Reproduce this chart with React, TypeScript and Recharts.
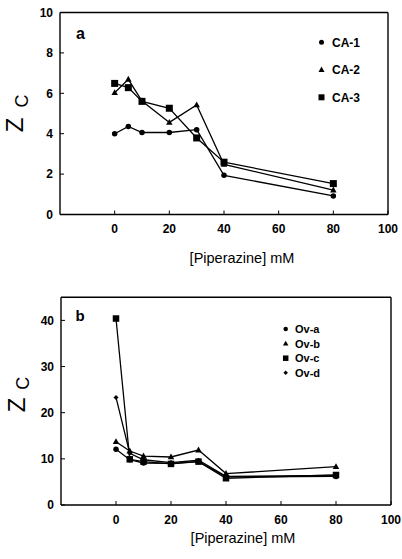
import React from 'react';
import { LineChart, Line, XAxis, YAxis, ReferenceLine, Legend, Customized } from 'recharts';

// ---------- data ----------
const piperazine = [0, 5, 10, 20, 30, 40, 80];

const caNames = ['CA-1', 'CA-2', 'CA-3'];
const ca1 = [4.0, 4.36, 4.06, 4.06, 4.2, 1.94, 0.92];
const ca2 = [6.03, 6.69, 5.62, 4.56, 5.42, 2.48, 1.21];
const ca3 = [6.49, 6.28, 5.6, 5.26, 3.79, 2.59, 1.53];

const ovNames = ['Ov-a', 'Ov-b', 'Ov-c', 'Ov-d'];
const ova = [12.1, 9.8, 9.1, 9.0, 9.4, 6.1, 6.2];
const ovb = [13.7, 11.7, 10.6, 10.4, 11.9, 6.8, 8.3];
const ovc = [40.4, 9.9, 9.4, 8.9, 9.4, 5.8, 6.5];
const ovd = [23.3, 11.2, 9.8, 9.2, 9.7, 6.2, 6.4];

const xTicks = [0, 20, 40, 60, 80, 100];
const xDomain = [-20, 100];
const caYTicks = [0, 2, 4, 6, 8, 10];
const caYDomain = [0, 10];
const ovYTicks = [0, 10, 20, 30, 40];
const ovYDomain = [0, 45];

const caData = piperazine.map((x, i) => ({ x, s0: ca1[i], s1: ca2[i], s2: ca3[i] }));
const ovData = piperazine.map((x, i) => ({ x, s0: ova[i], s1: ovb[i], s2: ovc[i], s3: ovd[i] }));

const FONT = '"Liberation Sans", Arial, Helvetica, sans-serif';

type Shape = 'circle' | 'triangle' | 'square' | 'diamond';

function markerEl(shape: Shape, cx: number, cy: number, s: number, key?: any) {
  if (cx == null || cy == null || isNaN(cx) || isNaN(cy)) return <g key={key} />;
  if (shape === 'circle') return <circle key={key} cx={cx} cy={cy} r={s / 2} fill="#000" />;
  if (shape === 'square')
    return <rect key={key} x={cx - s / 2} y={cy - s / 2} width={s} height={s} fill="#000" />;
  if (shape === 'triangle') {
    const h = s * 0.9;
    return (
      <polygon
        key={key}
        points={`${cx},${cy - h * 0.6} ${cx - s / 2},${cy + h * 0.4} ${cx + s / 2},${cy + h * 0.4}`}
        fill="#000"
      />
    );
  }
  return (
    <polygon
      key={key}
      points={`${cx},${cy - s / 2} ${cx + s / 2},${cy} ${cx},${cy + s / 2} ${cx - s / 2},${cy}`}
      fill="#000"
    />
  );
}

const tickStyle = { fill: '#000', fontSize: 12, fontWeight: 700, fontFamily: FONT };

type PanelProps = {
  data: any[];
  names: string[];
  shapes: Shape[];
  sizes: number[];
  yDomain: number[];
  yTicks: number[];
  height: number;
  margin: any;
  yAxisWidth: number;
  letter: string;
  letterPos: { x: number; y: number; size: number };
  zPos: { x: number; zy: number; cx: number; cy: number };
  xLabelPos: { x: number; y: number };
  legendPos: { left: number; top: number; mx: number; tx: number; y0: number; dy: number; fs: number; ms: number[] };
};

function Panel(p: PanelProps) {
  const legendContent = () => (
    <svg width={100} height={110} style={{ overflow: 'visible', display: 'block' }}>
      {p.names.map((n, i) => {
        const cy = p.legendPos.y0 + i * p.legendPos.dy;
        return (
          <g key={n}>
            {markerEl(p.shapes[i], p.legendPos.mx, cy, p.legendPos.ms[i])}
            <text
              x={p.legendPos.tx}
              y={cy + p.legendPos.fs * 0.36}
              fontSize={p.legendPos.fs}
              fontWeight={700}
              fontFamily={FONT}
              fill="#000"
            >
              {n}
            </text>
          </g>
        );
      })}
    </svg>
  );

  const annotations = () => (
    <g>
      <text
        x={p.letterPos.x}
        y={p.letterPos.y}
        fontSize={p.letterPos.size}
        fontWeight={700}
        fontFamily={FONT}
        fill="#000"
      >
        {p.letter}
      </text>
      <text
        x={p.zPos.x}
        y={p.zPos.zy}
        transform={`rotate(-90 ${p.zPos.x} ${p.zPos.zy})`}
        textAnchor="middle"
        fontSize={24}
        fontFamily={FONT}
        fill="#000"
      >
        Z
      </text>
      <text
        x={p.zPos.cx}
        y={p.zPos.cy}
        transform={`rotate(-90 ${p.zPos.cx} ${p.zPos.cy})`}
        textAnchor="middle"
        fontSize={18}
        fontFamily={FONT}
        fill="#000"
      >
        C
      </text>
      <text
        x={p.xLabelPos.x}
        y={p.xLabelPos.y}
        textAnchor="middle"
        fontSize={14.5}
        fontFamily={FONT}
        fill="#000"
      >
        [Piperazine] mM
      </text>
    </g>
  );

  return (
    <LineChart width={402} height={p.height} data={p.data} margin={p.margin}>
      <XAxis
        type="number"
        dataKey="x"
        domain={xDomain}
        ticks={xTicks}
        allowDataOverflow
        height={30}
        tick={tickStyle}
        tickSize={-4}
        tickMargin={14}
        axisLine={{ stroke: '#000', strokeWidth: 1.4 }}
        tickLine={{ stroke: '#000', strokeWidth: 1 }}
      />
      <YAxis
        type="number"
        domain={p.yDomain}
        ticks={p.yTicks}
        allowDataOverflow
        width={p.yAxisWidth}
        tick={tickStyle}
        tickSize={-4}
        tickMargin={11}
        axisLine={{ stroke: '#000', strokeWidth: 1.4 }}
        tickLine={{ stroke: '#000', strokeWidth: 1 }}
      />
      <ReferenceLine y={p.yDomain[1]} stroke="#000" strokeWidth={1.4} />
      <ReferenceLine x={xDomain[1]} stroke="#000" strokeWidth={1.4} />
      {p.names.map((n, i) => (
        <Line
          key={n}
          dataKey={`s${i}`}
          name={n}
          type="linear"
          stroke="#000"
          strokeWidth={1.3}
          isAnimationActive={false}
          dot={(dp: any) => markerEl(p.shapes[i], dp.cx, dp.cy, p.sizes[i], `${n}-${dp.index}`)}
          activeDot={false}
        />
      ))}
      <Legend
        layout="vertical"
        align="center"
        verticalAlign="middle"
        content={legendContent}
        wrapperStyle={{ left: p.legendPos.left, top: p.legendPos.top, width: 100, height: 110 }}
      />
      <Customized component={annotations} />
    </LineChart>
  );
}

export default function App() {
  return (
    <div style={{ position: 'absolute', left: 0, top: 0, width: 402, height: 559, background: '#fff' }}>
      <div style={{ position: 'absolute', left: 0, top: 0 }}>
        <Panel
          data={caData}
          names={caNames}
          shapes={['circle', 'triangle', 'square']}
          sizes={[5.5, 6.5, 7]}
          yDomain={caYDomain}
          yTicks={caYTicks}
          height={280}
          margin={{ top: 12.5, right: 14, left: 0, bottom: 35.5 }}
          yAxisWidth={60}
          letter="a"
          letterPos={{ x: 76, y: 38.5, size: 16 }}
          zPos={{ x: 23, zy: 125, cx: 28, cy: 101 }}
          xLabelPos={{ x: 242, y: 263.3 }}
          legendPos={{ left: 305, top: 25, mx: 16.5, tx: 27, y0: 17.3, dy: 27.5, fs: 12, ms: [5, 6, 6] }}
        />
      </div>
      <div style={{ position: 'absolute', left: 0, top: 280 }}>
        <Panel
          data={ovData}
          names={ovNames}
          shapes={['circle', 'triangle', 'square', 'diamond']}
          sizes={[5.5, 6.5, 6.5, 5]}
          yDomain={ovYDomain}
          yTicks={ovYTicks}
          height={279}
          margin={{ top: 17.3, right: 11, left: 0, bottom: 24 }}
          yAxisWidth={61}
          letter="b"
          letterPos={{ x: 75.5, y: 40.7, size: 15 }}
          zPos={{ x: 25, zy: 125, cx: 29, cy: 103.3 }}
          xLabelPos={{ x: 243, y: 263.3 }}
          legendPos={{ left: 275, top: 35, mx: 10.7, tx: 20, y0: 14, dy: 14.6, fs: 11, ms: [4.5, 5.5, 5.5, 4.5] }}
        />
      </div>
    </div>
  );
}
